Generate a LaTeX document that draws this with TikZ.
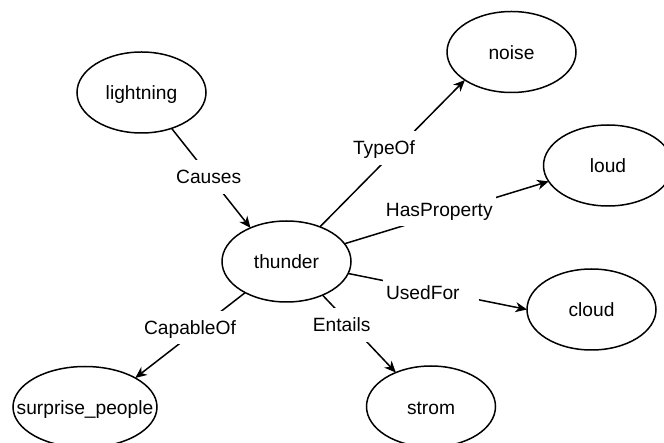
\documentclass[tikz,border=0pt]{standalone}
\usepackage{fontspec}
\setmainfont{Liberation Sans}
\usetikzlibrary{arrows.meta,shapes.geometric}

\tikzset{
  concept/.style={ellipse, draw=black, line width=1.5pt, fill=white,
    minimum width=129pt, minimum height=81pt, inner sep=0pt, outer sep=0pt,
    text height=15pt, text depth=0pt,
    font=\fontsize{19.2}{23}\selectfont},
  relation/.style={draw=black, line width=1.5pt,
    -{Stealth[length=11.5pt,width=10pt,inset=3.5pt]}},
  rellabel/.style={fill=white, inner xsep=3pt, inner ysep=10pt,
    text height=13.8pt, text depth=0pt,
    font=\fontsize{19.2}{23}\selectfont},
}

\begin{document}
\begin{tikzpicture}[x=1pt,y=-1pt]
  \useasboundingbox (0,0) rectangle (664,443);
  \clip (0,0) rectangle (664,443);

  % concepts
  \node[concept] (lightning) at (141.5,92.5) {lightning};
  \node[concept] (noise)     at (511.5,52)   {noise};
  \node[concept] (loud)      at (608,165.5)  {loud};
  \node[concept] (thunder)   at (286.5,261.5){thunder};
  \node[concept] (cloud)     at (591.5,309.5){cloud};
  \node[concept, minimum width=144pt, inner xsep=-30pt] (surprise) at (85,407) {surprise\_people};
  \node[concept] (strom)     at (431,406.5)  {strom};

  % relations
  \draw[relation] (lightning.-50.3) -- (thunder.137.2);
  \draw[relation] (thunder.46.3)    -- (noise.211.7);
  \draw[relation] (thunder.17.8)    -- (loud.195);
  \draw[relation] (thunder.-11.7)   -- (cloud.180);
  \draw[relation] (thunder.-43.6)   -- (strom.136.9);
  \draw[relation] (thunder.217.2)   -- (surprise.30);

  % relation labels
  \node[rellabel] (lCauses)   at (208.7,177)   {Causes};
  \node[rellabel] (lTypeOf)   at (384,148)     {TypeOf};
  \node[rellabel] (lHasProp)  at (439.3,209.5) {HasProperty};
  \node[rellabel, text width=90pt, align=left] (lUsedFor) at (431,293) {UsedFor};
  \node[rellabel] (lEntails)  at (341.7,325)   {Entails};
  \node[rellabel] (lCapable)  at (190,327.5)   {CapableOf};
\end{tikzpicture}
\end{document}
